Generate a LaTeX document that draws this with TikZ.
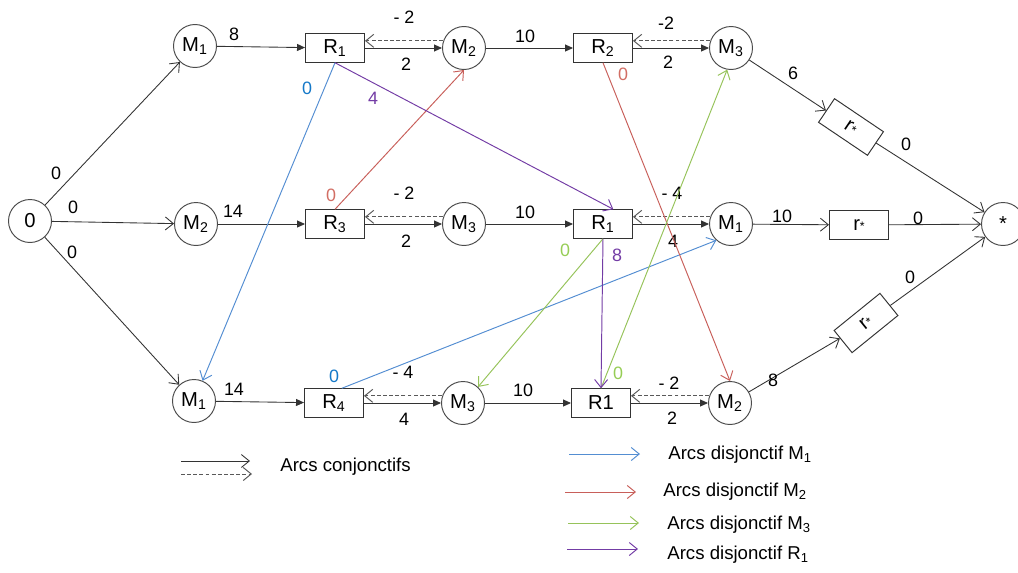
\documentclass[tikz,border=0pt]{standalone}
\usepackage{fontspec}
\setmainfont{Liberation Sans}
\usetikzlibrary{arrows.meta,positioning,calc}
\definecolor{djmone}{RGB}{84,142,210}
\definecolor{djmonetxt}{RGB}{20,120,200}
\definecolor{djmtwo}{RGB}{200,95,90}
\definecolor{djmtwotxt}{RGB}{210,110,100}
\definecolor{djmthree}{RGB}{150,195,90}
\definecolor{djmthreetxt}{RGB}{150,205,85}
\definecolor{djrone}{RGB}{115,60,165}

\begin{document}
\begin{tikzpicture}[x=0.02cm,y=-0.02cm,
  every node/.style={font=\fontsize{11.5}{13}\selectfont},
  mach/.style={circle,draw=black!70,line width=0.55pt,minimum size=0.86cm,inner sep=0pt},
  opbox/.style={rectangle,draw=black!80,line width=0.55pt,minimum width=1.18cm,minimum height=0.57cm,inner sep=0pt},
  wt/.style={font=\fontsize{10.2}{12}\selectfont,inner sep=0pt},
  lgd/.style={anchor=west,font=\fontsize{10.6}{13}\selectfont,inner sep=0pt},
  conj/.style={draw=black!80,line width=0.5pt,-{Triangle[length=1.6mm,width=1.4mm]}},
  conjo/.style={draw=black!80,line width=0.5pt,-{Straight Barb[length=1.6mm,width=2.6mm]}},
  back/.style={draw=black!65,line width=0.55pt,dash pattern=on 2.2pt off 1.3pt,-{Straight Barb[length=1.6mm,width=2.6mm]}},
  disj/.style={line width=0.55pt,-{Straight Barb[length=1.6mm,width=2.6mm]}}]
\useasboundingbox (0,0) rectangle (1018,572);

\node[mach] (src) at (30,221) {0};
\node[mach] (m1t) at (195,46) {M\textsubscript{1}};
\node[opbox] (r1t) at (335,48) {R\textsubscript{1}};
\node[mach] (m2t) at (464,48) {M\textsubscript{2}};
\node[opbox] (r2t) at (603,48) {R\textsubscript{2}};
\node[mach] (m3t) at (731,48) {M\textsubscript{3}};
\node[opbox,rotate=-34] (rst) at (851,127) {r{\scriptsize *}};
\node[mach] (fin) at (1003,224) {*};

\node[mach] (m2m) at (196,224) {M\textsubscript{2}};
\node[opbox] (r3m) at (335,224) {R\textsubscript{3}};
\node[mach] (m3m) at (464,224) {M\textsubscript{3}};
\node[opbox] (r1m) at (603,224) {R\textsubscript{1}};
\node[mach] (m1m) at (731,224) {M\textsubscript{1}};
\node[opbox] (rsm) at (859,225) {r{\scriptsize *}};

\node[mach] (m1b) at (194,401) {M\textsubscript{1}};
\node[opbox] (r4b) at (334,403) {R\textsubscript{4}};
\node[mach] (m3b) at (463,403) {M\textsubscript{3}};
\node[opbox] (r1b) at (601,403) {R1};
\node[mach] (m2b) at (730,403) {M\textsubscript{2}};
\node[opbox,rotate=39] (rsb) at (866,323) {r{\scriptsize *}};

\draw[conjo] (src) -- (m1t);
\draw[conjo] (src) -- (m2m);
\draw[conjo] (src) -- (m1b);
\node[wt] (w01) at (56,173) {0};
\node[wt] (w02) at (73,207) {0};
\node[wt] (w03) at (72,252) {0};

\draw[conj] (m1t) -- (r1t);
\draw[conj] (r1t) -- (m2t);
\draw[back] (m2t.161) -- (r1t.east |- m2t.161);
\draw[conj] (m2t) -- (r2t);
\draw[conj] (r2t) -- (m3t);
\draw[back] (m3t.161) -- (r2t.east |- m3t.161);
\draw[conjo] (m3t) -- (rst);
\draw[conjo] (rst) -- (fin);
\node[wt] (w11) at (234,34) {8};
\node[wt] (w12) at (404,17) {- 2};
\node[wt] (w13) at (406,64) {2};
\node[wt] (w14) at (525,36) {10};
\node[wt] (w15) at (666,23) {-2};
\node[wt] (w16) at (668,62) {2};
\node[wt] (w17) at (793,73) {6};
\node[wt] (w18) at (906,144) {0};

\draw[conj] (m2m) -- (r3m);
\draw[conj] (r3m) -- (m3m);
\draw[back] (m3m.161) -- (r3m.east |- m3m.161);
\draw[conj] (m3m) -- (r1m);
\draw[conj] (r1m) -- (m1m);
\draw[back] (m1m.161) -- (r1m.east |- m1m.161);
\draw[conjo] (m1m) -- (rsm);
\draw[conjo] (rsm) -- (fin);
\node[wt] (w21) at (233,211) {14};
\node[wt] (w22) at (404,193) {- 2};
\node[wt] (w23) at (406,241) {2};
\node[wt] (w24) at (525,212) {10};
\node[wt] (w25) at (672,193) {- 4};
\node[wt] (w26) at (673,241) {4};
\node[wt] (w27) at (782,216) {10};
\node[wt] (w28) at (918,218) {0};

\draw[conj] (m1b) -- (r4b);
\draw[conj] (r4b) -- (m3b);
\draw[back] (m3b.161) -- (r4b.east |- m3b.161);
\draw[conj] (m3b) -- (r1b);
\draw[conj] (r1b) -- (m2b);
\draw[back] (m2b.161) -- (r1b.east |- m2b.161);
\draw[conjo] (m2b) -- (rsb);
\draw[conjo] (rsb) -- (fin);
\node[wt] (w31) at (234,389) {14};
\node[wt] (w32) at (403,372) {- 4};
\node[wt] (w33) at (404,419) {4};
\node[wt] (w34) at (523,390) {10};
\node[wt] (w35) at (669,383) {- 2};
\node[wt] (w36) at (672,418) {2};
\node[wt] (w37) at (773,380) {8};
\node[wt] (w38) at (910,277) {0};

\draw[disj,djmone] (r1t.south) -- (m1b.67);
\draw[disj,djmone] (r4b.62) -- (m1m.228);
\node[wt,text=djmonetxt] (b1) at (307,88) {0};
\node[wt,text=djmonetxt] (b2) at (334,376) {0};

\draw[disj,djmtwo] (r3m.north) -- (m2t.south);
\draw[disj,djmtwo] (r2t.south) -- (m2b.north);
\node[wt,text=djmtwotxt] (c1) at (331,195) {0};
\node[wt,text=djmtwotxt] (c2) at (623,74) {0};

\draw[disj,djmthree] (r1m.south) -- (m3b.47);
\draw[disj,djmthree] (r1b.north) -- (m3t.260);
\node[wt,text=djmthreetxt] (g1) at (565,250) {0};
\node[wt,text=djmthreetxt] (g2) at (618,373) {0};

\draw[disj,djrone] (r1t.south) -- (r1m.55);
\draw[disj,djrone] (r1m.south) -- (r1b.north);
\node[wt,text=djrone] (p1) at (373,98) {4};
\node[wt,text=djrone] (p2) at (617,255) {8};

\coordinate (lc1) at (181,461);
\coordinate (lc2) at (250,461);
\coordinate (ld1) at (181,474);
\coordinate (ld2) at (252,474);
\draw[conjo] (lc1) -- (lc2);
\draw[back] (ld1) -- (ld2);
\node[lgd] (lgc) at (280,467) {Arcs conjonctifs};

\coordinate (lb1) at (569,454);
\coordinate (lb2) at (640,454);
\draw[disj,djmone] (lb1) -- (lb2);
\node[lgd] (lgb) at (668,455) {Arcs disjonctif M\textsubscript{1}};
\coordinate (lr1) at (565,492);
\coordinate (lr2) at (636,492);
\draw[disj,djmtwo] (lr1) -- (lr2);
\node[lgd] (lgr) at (663,492) {Arcs disjonctif M\textsubscript{2}};
\coordinate (lg1) at (568,523);
\coordinate (lg2) at (639,523);
\draw[disj,djmthree] (lg1) -- (lg2);
\node[lgd] (lgg) at (667,525) {Arcs disjonctif M\textsubscript{3}};
\coordinate (lp1) at (567,549);
\coordinate (lp2) at (638,549);
\draw[disj,djrone] (lp1) -- (lp2);
\node[lgd] (lgp) at (667,555) {Arcs disjonctif R\textsubscript{1}};
\end{tikzpicture}
\end{document}
